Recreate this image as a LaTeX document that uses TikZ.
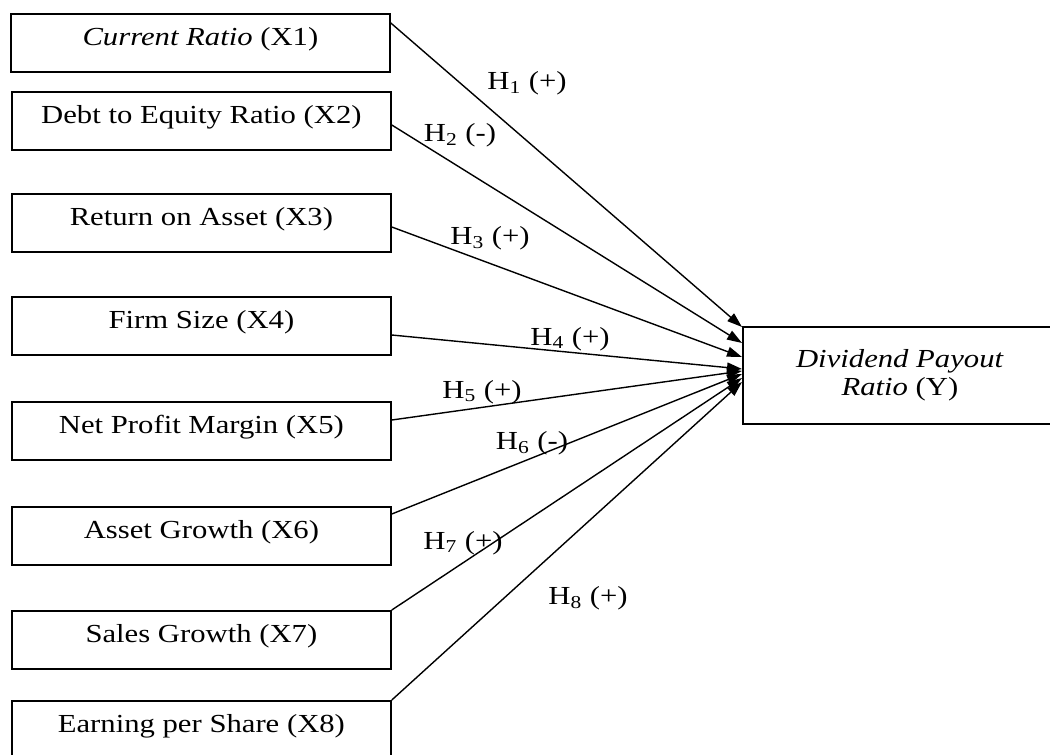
\documentclass[tikz,border=0pt]{standalone}
\usepackage{fontspec}
\setmainfont{Liberation Serif}[FakeStretch=1.18]
\usetikzlibrary{arrows.meta}
\begin{document}
\begin{tikzpicture}[x=0.5pt,y=-0.5pt,
  every node/.style={font=\fontsize{13}{14}\selectfont},
  lbox/.style={draw, line width=0.9pt, anchor=north west, minimum width=189.5pt,
    inner xsep=0pt, inner ysep=0pt, text height=16pt, text depth=13pt},
  ybox/.style={draw, line width=0.9pt, anchor=north west, minimum width=157pt,
    minimum height=48.5pt, align=center},
  arr/.style={line width=0.7pt, -{Triangle[length=7.5pt,width=5pt]}},
  hlab/.style={inner sep=0pt}]
\useasboundingbox (0,0) rectangle (1050,755);
\node[lbox] (x1) at (10,13) {\textit{Current Ratio} (X1)};
\node[lbox] (x2) at (11,91) {Debt to Equity Ratio (X2)};
\node[lbox] (x3) at (11,193) {Return on Asset (X3)};
\node[lbox] (x4) at (11,296) {Firm Size (X4)};
\node[lbox] (x5) at (11,401) {Net Profit Margin (X5)};
\node[lbox] (x6) at (11,506) {Asset Growth (X6)};
\node[lbox] (x7) at (11,610) {Sales Growth (X7)};
\node[lbox] (x8) at (11,700) {Earning per Share (X8)};
\node[ybox] (y) at (742,326) {\textit{Dividend Payout}\\\textit{Ratio} (Y)};
\draw[arr] ([yshift=-5pt]x1.north east) -- ([yshift=-0.5pt]y.north west);
\draw[arr] ([yshift=-17pt]x2.north east) -- ([yshift=-8.5pt]y.north west);
\draw[arr] ([yshift=-17pt]x3.north east) -- ([yshift=-15.5pt]y.north west);
\draw[arr] ([yshift=-19.5pt]x4.north east) -- ([yshift=-21.5pt]y.north west);
\draw[arr] ([yshift=-9.5pt]x5.north east) -- ([yshift=-22.5pt]y.north west);
\draw[arr] ([yshift=-4pt]x6.north east) -- ([yshift=-24pt]y.north west);
\draw[arr] (x7.north east) -- ([yshift=-26pt]y.north west);
\draw[arr] (x8.north east) -- ([yshift=-28pt]y.north west);
\node[hlab] (h1) at (527,83) {H\textsubscript{1} (+)};
\node[hlab] (h2) at (460,135) {H\textsubscript{2} (-)};
\node[hlab] (h3) at (490,238) {H\textsubscript{3} (+)};
\node[hlab] (h4) at (570,339) {H\textsubscript{4} (+)};
\node[hlab] (h5) at (482,392) {H\textsubscript{5} (+)};
\node[hlab] (h6) at (532,443) {H\textsubscript{6} (-)};
\node[hlab] (h7) at (463,543) {H\textsubscript{7} (+)};
\node[hlab] (h8) at (588,598) {H\textsubscript{8} (+)};
\end{tikzpicture}
\end{document}
